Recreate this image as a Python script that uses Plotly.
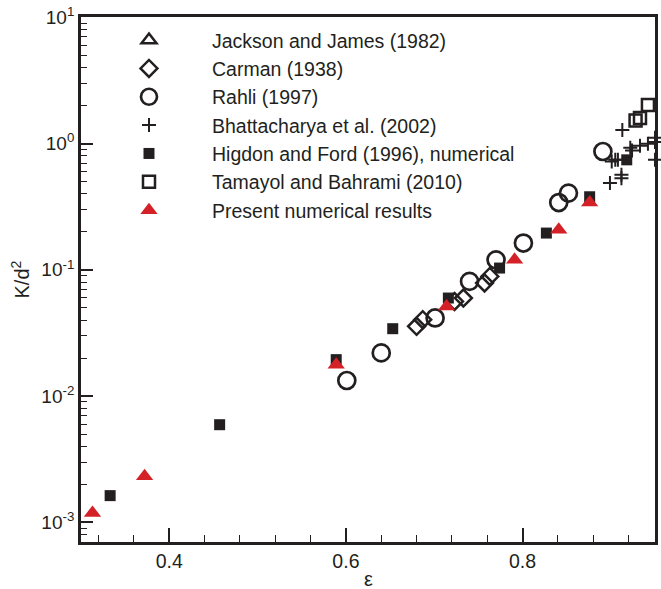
import plotly.graph_objects as go

# Data (porosity eps, K/d^2)
jackson_x = []
jackson_y = []

carman_x = [0.680, 0.687, 0.723, 0.733, 0.757, 0.763]
carman_y = [0.0357, 0.0403, 0.0562, 0.0598, 0.0787, 0.0887]

rahli_x = [0.601, 0.640, 0.701, 0.740, 0.770, 0.801, 0.841, 0.852, 0.891]
rahli_y = [0.0133, 0.0220, 0.0416, 0.0810, 0.120, 0.163, 0.341, 0.405, 0.865]

bhatt_x = [0.913, 0.901, 0.905, 0.908, 0.912, 0.912, 0.899, 0.922, 0.924, 0.933, 0.942, 0.950, 0.950, 0.950]
bhatt_y = [1.28, 0.721, 0.743, 0.743, 0.565, 0.532, 0.486, 0.925, 0.88, 0.96, 0.995, 1.11, 1.03, 0.743]

higdon_x = [0.333, 0.457, 0.589, 0.653, 0.716, 0.774, 0.827, 0.876, 0.918]
higdon_y = [0.00163, 0.00594, 0.01945, 0.0342, 0.0598, 0.1033, 0.1955, 0.379, 0.743]

tamayol_x = [0.942, 0.933, 0.928]
tamayol_y = [2.02, 1.59, 1.52]

present_x = [0.313, 0.372, 0.589, 0.714, 0.791, 0.841, 0.876]
present_y = [0.00119, 0.00232, 0.01775, 0.0513, 0.120, 0.2075, 0.341]

x_ticks = [0.4, 0.6, 0.8]
x_ticklabels = ["0.4", "0.6", "0.8"]
x_minor = [0.32, 0.36, 0.44, 0.48, 0.52, 0.56, 0.64, 0.68, 0.72, 0.76, 0.84, 0.88, 0.92]
y_ticks = [0.001, 0.01, 0.1, 1, 10]
y_ticklabels = ["10<sup>-3</sup>", "10<sup>-2</sup>", "10<sup>-1</sup>", "10<sup>0</sup>", "10<sup>1</sup>"]

BLACK = "#231f20"
RED = "#d42027"
FONT = "Liberation Sans, Arial, sans-serif"

fig = go.Figure()

def add(name, x, y, symbol, size, color, lw=0):
    fig.add_trace(go.Scatter(
        x=x if x else [None], y=y if y else [None], mode="markers", name=name,
        marker=dict(symbol=symbol, size=size, color=color,
                    line=dict(width=lw, color=color)),
        cliponaxis=False))

add("Jackson and James (1982)", jackson_x, jackson_y, "triangle-up-open", 13, BLACK, 2.5)
add("Carman (1938)", carman_x, carman_y, "diamond-open", 13, BLACK, 2.5)
add("Rahli (1997)", rahli_x, rahli_y, "circle-open", 17, BLACK, 2.7)
add("Bhattacharya et al. (2002)", bhatt_x, bhatt_y, "cross-thin-open", 10, BLACK, 2)
add("Higdon and Ford (1996), numerical", higdon_x, higdon_y, "square", 11, BLACK, 0)
add("Tamayol and Bahrami (2010)", tamayol_x, tamayol_y, "square-open", 12, BLACK, 2.5)
add("Present numerical results", present_x, present_y, "triangle-up", 15, RED, 0)

fig.update_layout(
    width=661, height=589,
    margin=dict(l=81, r=6, t=17, b=47),
    paper_bgcolor="white", plot_bgcolor="white",
    font=dict(family=FONT, color=BLACK, size=16),
    showlegend=True,
    legend=dict(x=0.0087, y=0.9926, xanchor="left", yanchor="top",
                font=dict(size=19.5, family=FONT, color=BLACK),
                bgcolor="rgba(0,0,0,0)", itemwidth=116, tracegroupgap=0,
                traceorder="normal"),
    xaxis=dict(range=[0.3, 0.95], showgrid=False, zeroline=False, automargin=False,
               showline=True, linewidth=2.8, linecolor=BLACK, mirror=True,
               ticks="inside", ticklen=14, tickwidth=2, tickcolor=BLACK,
               tickmode="array", tickvals=x_ticks, ticktext=x_ticklabels,
               tickfont=dict(size=19.5), ticklabeloverflow="allow",
               minor=dict(ticks="inside", ticklen=7, tickwidth=1, tickcolor=BLACK,
                          tickmode="array", tickvals=x_minor)),
    yaxis=dict(type="log", range=[-3.155, 1.002], showgrid=False, zeroline=False, automargin=False,
               showline=True, linewidth=2.8, linecolor=BLACK, mirror=True,
               ticks="inside", ticklen=12, tickwidth=2, tickcolor=BLACK,
               tickmode="array", tickvals=y_ticks, ticktext=y_ticklabels, tickfont=dict(size=19),
               ticklabeloverflow="allow",
               minor=dict(ticks="inside", ticklen=6, tickwidth=1, tickcolor=BLACK, dtick="D1")),
    annotations=[
        dict(text="ε", x=0.5, y=0, xref="paper", yref="paper", xanchor="center", yanchor="top",
             yshift=-24, showarrow=False, font=dict(size=20, family=FONT, color=BLACK)),
        dict(text="K/d<sup>2</sup>", x=0, y=0.5, xref="paper", yref="paper", xanchor="center",
             yanchor="middle", xshift=-61, textangle=-90, showarrow=False,
             font=dict(size=20, family=FONT, color=BLACK)),
    ],
)

fig.write_html("out.html", config={"displayModeBar": False},
               post_script="document.body.style.margin='0';")
